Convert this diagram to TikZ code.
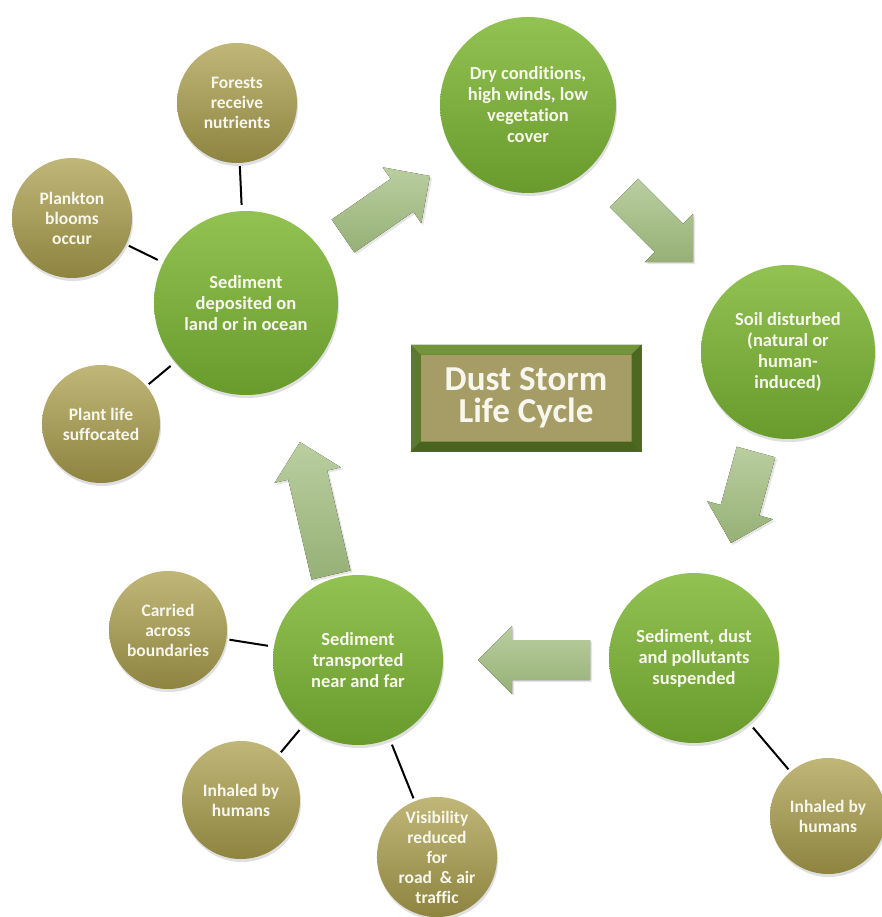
\documentclass[tikz,border=0pt]{standalone}
\usepackage{fontspec}
\setmainfont{Carlito}[Ligatures=NoCommon]
\usetikzlibrary{calc,shadows}

\definecolor{greenlight}{RGB}{146,194,82}
\definecolor{greendark}{RGB}{104,154,44}
\definecolor{olivelight}{RGB}{192,182,120}
\definecolor{olivedark}{RGB}{142,132,64}
\definecolor{arrowlight}{RGB}{186,206,160}
\definecolor{arrowdark}{RGB}{150,176,118}
\definecolor{framegreen}{RGB}{92,122,44}
\definecolor{framelight}{RGB}{116,148,60}
\definecolor{framedark}{RGB}{72,100,30}
\definecolor{boxtan}{RGB}{166,156,102}
\definecolor{textcream}{RGB}{248,247,238}

% block arrow from tail to tip
\newcommand{\bigarrow}[2]{%
  \coordinate (ta) at (#1);
  \coordinate (tb) at (#2);
  \coordinate (hb) at ($(tb)!34pt!(ta)$);
  \fill[flowarrow] ($(ta)!20pt!90:(tb)$) -- ($(hb)!20pt!90:(tb)$)
    -- ($(hb)!34pt!90:(tb)$) -- (tb) -- ($(hb)!34pt!-90:(tb)$)
    -- ($(hb)!20pt!-90:(tb)$) -- ($(ta)!20pt!-90:(tb)$) -- cycle;
}

\begin{document}
\begin{tikzpicture}[x=1pt, y=-1pt,
    stage/.style={circle, inner sep=0pt, minimum size=#1,
      top color=greenlight, bottom color=greendark, text=textcream,
      font=\bfseries\fontsize{18.5}{21}\selectfont, align=center,
      drop shadow={shadow xshift=1pt, shadow yshift=-3pt, opacity=0.25}},
    stage/.default=172pt,
    effect/.style={circle, inner sep=0pt, minimum size=#1,
      top color=olivelight, bottom color=olivedark, text=textcream,
      font=\bfseries\fontsize{17.5}{20}\selectfont, align=center,
      drop shadow={shadow xshift=1pt, shadow yshift=-3pt, opacity=0.25}},
    effect/.default=118pt,
    link/.style={line width=2pt, shorten <=3pt, shorten >=6pt},
    flowarrow/.style={top color=arrowlight, bottom color=arrowdark,
      drop shadow={shadow xshift=2pt, shadow yshift=-2pt, opacity=0.2}},
    titlebox/.style={rectangle, draw=framegreen, line width=10pt,
      fill=boxtan, minimum width=221pt, minimum height=97pt,
      text=textcream, font=\bfseries\fontsize{35}{32}\selectfont,
      align=center,
      drop shadow={shadow xshift=2pt, shadow yshift=-3pt, opacity=0.3}}]

    \fill[white] (0,0) rectangle (881,917);
    \useasboundingbox (0,0) rectangle (881,917);

    % Cycle stages
    \node[stage=176pt] (dry) at (528,105) {Dry conditions,\\high winds, low\\vegetation\\cover};
    \node[stage=174pt] (soil) at (788,352) {Soil disturbed\\(natural or\\human-\\induced)};
    \node[stage=170pt] (susp) at (694,658) {Sediment, dust\\and pollutants\\suspended};
    \node[stage=170pt] (trans) at (358,660) {Sediment\\transported\\near and far};
    \node[stage=184pt] (depo) at (246,303) {Sediment\\deposited on\\land or in ocean};

    % Title
    \node[titlebox] (title) at (526,398) {Dust Storm\\Life Cycle};
    \fill[framelight] (title.north west) -- (title.north east)
      -- ([shift={(-10,10)}]title.north east) -- ([shift={(10,10)}]title.north west) -- cycle;
    \fill[framedark] (title.south west) -- (title.south east)
      -- ([shift={(-10,-10)}]title.south east) -- ([shift={(10,-10)}]title.south west) -- cycle;
    \fill[framedark!80!framegreen] (title.north east) -- (title.south east)
      -- ([shift={(-10,-10)}]title.south east) -- ([shift={(-10,10)}]title.north east) -- cycle;

    % Effects
    \node[effect=120pt] (forest) at (237,103) {Forests\\receive\\nutrients};
    \node[effect=120pt] (plankton) at (72,218) {Plankton\\blooms\\occur};
    \node[effect] (plant) at (101,424) {Plant life\\suffocated};
    \node[effect] (carried) at (168,630) {Carried\\across\\boundaries};
    \node[effect] (inhleft) at (241,800) {Inhaled by\\humans};
    \node[effect=120pt] (visib) at (437,857) {Visibility\\reduced\\for\\road~ \& air\\traffic};
    \node[effect=116pt] (inhright) at (828,816) {Inhaled by\\humans};

    % Links
    \draw[link] (forest) -- (depo);
    \draw[link] (plankton) -- (depo);
    \draw[link] (plant) -- (depo);
    \draw[link] (carried) -- (trans);
    \draw[link] (inhleft) -- (trans);
    \draw[link] (visib) -- (trans);
    \draw[link] (inhright) -- (susp);

    % Flow arrows
    \bigarrow{343,236}{430,176}
    \bigarrow{624,193}{693,262}
    \bigarrow{756,452}{731,543}
    \bigarrow{590,660}{478,660}
    \bigarrow{331,575}{300,442}
\end{tikzpicture}
\end{document}
